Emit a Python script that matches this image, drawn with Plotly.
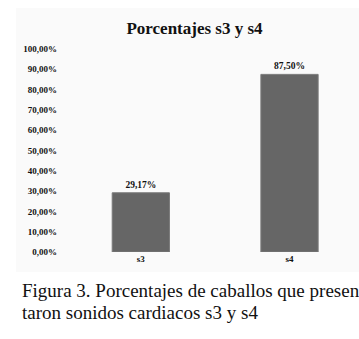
import plotly.graph_objects as go

categories = ["s3", "s4"]
values = [29.17, 87.50]
value_labels = ["29,17%", "87,50%"]
tick_vals = [0, 10, 20, 30, 40, 50, 60, 70, 80, 90, 100]
tick_text = ["0,00%", "10,00%", "20,00%", "30,00%", "40,00%", "50,00%",
             "60,00%", "70,00%", "80,00%", "90,00%", "100,00%"]
title_text = "Porcentajes s3 y s4"
caption_lines = ["Figura 3. Porcentajes de caballos que presen",
                 "taron sonidos cardiacos s3 y s4"]

serif = "Liberation Serif"

fig = go.Figure(go.Bar(
    x=categories, y=values,
    width=0.385,
    marker=dict(color="#666666", line=dict(color="#7a7a7a", width=1)),
    text=value_labels, textposition="outside", cliponaxis=False,
    textfont=dict(family=serif, size=9.5, color="#111111", weight="bold"),
))

fig.update_layout(
    width=359, height=339,
    margin=dict(l=62, r=10, t=48, b=87),
    paper_bgcolor="white", plot_bgcolor="rgba(0,0,0,0)",
    showlegend=False,
    font=dict(family=serif, color="#111111"),
    title=dict(text="<b>" + title_text + "</b>", xref="container",
               x=194.5 / 359, xanchor="center",
               y=1 - 28 / 339, yanchor="middle",
               font=dict(family=serif, size=17, color="#111111")),
    xaxis=dict(range=[-0.53, 1.40], showgrid=False, zeroline=False,
               showline=False, ticks="",
               tickfont=dict(family=serif, size=9, color="#111111", weight="bold")),
    yaxis=dict(range=[0, 100.5], tickvals=tick_vals, ticktext=tick_text,
               showgrid=False, zeroline=False, showline=False, ticks="",
               ticklabelstandoff=4,
               tickfont=dict(family=serif, size=9, color="#111111", weight="bold")),
    shapes=[dict(type="rect", xref="paper", yref="paper", layer="below",
                 x0=-46 / 287, x1=1.05, y0=(252 - 272) / 204, y1=(252 - 8) / 204,
                 fillcolor="#fafafa", line=dict(width=0))],
)

for i, line in enumerate(caption_lines):
    fig.add_annotation(text=line, xref="paper", yref="paper",
                       x=-42 / 287, xanchor="left",
                       y=(252 - (290 + 22 * i)) / 204, yanchor="middle",
                       showarrow=False, align="left",
                       font=dict(family=serif, size=19, color="#111111"))

fig.write_html("out.html", config={"displayModeBar": False},
               post_script="document.body.style.margin='0';document.body.style.overflow='hidden';")
